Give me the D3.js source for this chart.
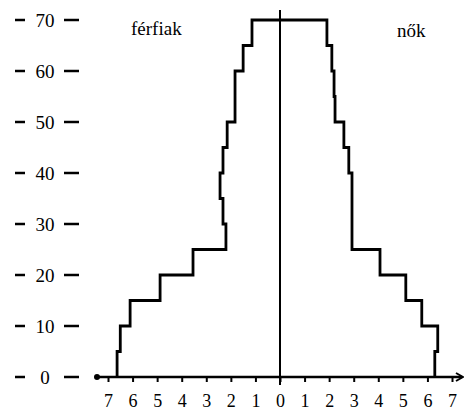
<!DOCTYPE html>
<html>
<head>
<meta charset="utf-8">
<script src="https://cdn.jsdelivr.net/npm/d3@7/dist/d3.min.js"></script>
<style>
  html, body { margin: 0; padding: 0; background: #fff; }
  svg { display: block; }
</style>
</head>
<body>
<svg id="chart" width="464" height="419"></svg>
<script>
// Age group starts (years), 5-year groups 0–70
const ageStarts = [0, 5, 10, 15, 20, 25, 30, 35, 40, 45, 50, 55, 60, 65];
// men (férfiak), left side, percent
const men   = [6.63, 6.5, 6.1, 4.88, 3.54, 2.2, 2.32, 2.44, 2.32, 2.15, 1.83, 1.83, 1.5, 1.14];
// women (nők), right side, percent
const women = [6.3, 6.42, 5.77, 5.12, 4.07, 2.93, 2.93, 2.93, 2.8, 2.6, 2.24, 2.2, 2.11, 1.91];
const yTicks = [0, 10, 20, 30, 40, 50, 60, 70];
const xTicks = [-7, -6, -5, -4, -3, -2, -1, 0, 1, 2, 3, 4, 5, 6, 7];
const labelMen = "férfiak";
const labelWomen = "nők";

const svg = d3.select("#chart");
const x = d3.scaleLinear().domain([-7, 7]).range([108, 452]);
const y = d3.scaleLinear().domain([0, 70]).range([377, 20]);
const font = "'Liberation Serif', 'Times New Roman', serif";

// x axis
const xAxis = d3.axisBottom(x).tickValues(xTicks).tickSize(5).tickPadding(12)
  .tickFormat(d => Math.abs(d));
const gx = svg.append("g").attr("transform", `translate(0,${y(0)})`).call(xAxis);
gx.select(".domain").remove();
gx.selectAll(".tick line").attr("stroke", "#000").attr("stroke-width", 2);
gx.selectAll(".tick text").attr("font-family", font).attr("font-size", 18).attr("fill", "#000");
// axis base line with dot and arrow
svg.append("line").attr("x1", x(-7) - 11).attr("x2", x(7) + 10)
  .attr("y1", y(0)).attr("y2", y(0)).attr("stroke", "#000").attr("stroke-width", 2.5);
svg.append("circle").attr("cx", x(-7) - 11).attr("cy", y(0)).attr("r", 3).attr("fill", "#000");
svg.append("path")
  .attr("d", `M${x(7) + 4},${y(0) - 4} L${x(7) + 11},${y(0)} L${x(7) + 4},${y(0) + 4}`)
  .attr("fill", "none").attr("stroke", "#000").attr("stroke-width", 2);

// vertical axis at 0
svg.append("line").attr("x1", x(0)).attr("x2", x(0))
  .attr("y1", y(70) - 10).attr("y2", y(0) + 8).attr("stroke", "#000").attr("stroke-width", 2);

// y labels with dashes
const gy = svg.append("g");
yTicks.forEach(v => {
  const yy = y(v);
  gy.append("line").attr("x1", 15).attr("x2", 25).attr("y1", yy).attr("y2", yy)
    .attr("stroke", "#000").attr("stroke-width", 2.5);
  gy.append("line").attr("x1", 64).attr("x2", 79).attr("y1", yy).attr("y2", yy)
    .attr("stroke", "#000").attr("stroke-width", 2.5);
  gy.append("text").attr("x", 45).attr("y", yy).attr("dy", "0.35em")
    .attr("text-anchor", "middle").attr("font-family", font).attr("font-size", 19)
    .text(v);
});

// outline
const pts = [];
for (let i = 0; i < ageStarts.length; i++) {
  pts.push([-men[i], ageStarts[i]]);
  pts.push([-men[i], ageStarts[i] + 5]);
}
for (let i = ageStarts.length - 1; i >= 0; i--) {
  pts.push([women[i], ageStarts[i] + 5]);
  pts.push([women[i], ageStarts[i]]);
}
const line = d3.line().x(d => x(d[0])).y(d => y(d[1]));
svg.append("path").attr("d", line(pts)).attr("fill", "none")
  .attr("stroke", "#000").attr("stroke-width", 2.8).attr("stroke-linejoin", "miter");

// labels
svg.append("text").attr("x", 131).attr("y", 35).attr("font-family", font)
  .attr("font-size", 19).text(labelMen);
svg.append("text").attr("x", 397).attr("y", 37).attr("font-family", font)
  .attr("font-size", 19).text(labelWomen);
</script>
</body>
</html>
